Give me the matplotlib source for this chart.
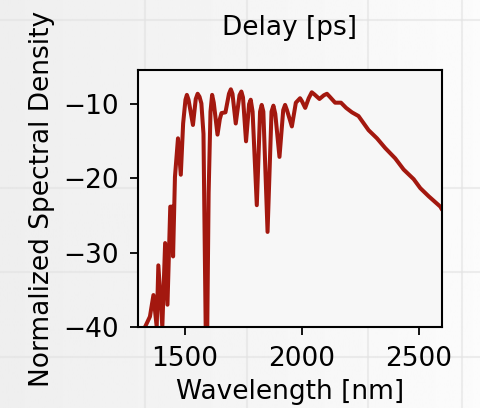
import numpy as np
import matplotlib
matplotlib.use("Agg")
from matplotlib import pyplot as plt

# spectrum (wavelength in nm, level in dB)
wavelength = [1300, 1330, 1351, 1366, 1380, 1387, 1404, 1416, 1426, 1438, 1446,
              1450, 1458, 1471, 1483, 1493, 1503, 1509, 1516, 1535, 1547, 1555,
              1563, 1571, 1580, 1593, 1602, 1610, 1617, 1624, 1640, 1650, 1657,
              1674, 1689, 1697, 1704, 1718, 1734, 1742, 1749, 1762, 1775, 1782,
              1790, 1808, 1822, 1829, 1836, 1854, 1871, 1879, 1887, 1905, 1921,
              1929, 1937, 1958, 1975, 1993, 2001, 2015, 2030, 2043, 2055, 2076,
              2095, 2108, 2120, 2143, 2168, 2190, 2215, 2243, 2286, 2322, 2357,
              2400, 2436, 2479, 2507, 2543, 2593, 2600]
density = [-45, -40, -38.6, -35.7, -40, -31.7, -40, -28.7, -37, -23.8, -23.8,
           -30.5, -19.8, -14.6, -19.5, -12.6, -9.4, -8.75, -9.4, -12.8, -9.3, -8.6,
           -9.0, -9.9, -14, -50, -22, -11, -8.75, -9.8, -14.1, -12.0, -11.2,
           -11.1, -8.6, -8.0, -8.6, -12.6, -8.8, -8.3, -9.1, -15.0, -10.0, -9.4,
           -11.0, -23.6, -11.0, -10.1, -11.0, -27.2, -11.0, -10.2, -11.3, -17.1, -10.8,
           -10.1, -10.8, -13.0, -9.8, -9.2, -9.6, -10.5, -9.2, -8.4, -8.7, -9.3,
           -8.8, -8.6, -9.0, -9.8, -9.8, -10.5, -11.1, -11.6, -13.5, -14.6, -15.9,
           -17.3, -18.8, -20.1, -21.3, -22.4, -23.8, -24.2]

LINE_COLOR = '#a3180f'

plt.rcParams['font.family'] = 'DejaVu Sans'
plt.rcParams['font.size'] = 19

fig = plt.figure(figsize=(4.8, 4.08), dpi=100)

# soft grey background with a light left-to-right gradient and faint lines
bg = fig.add_axes([0, 0, 1, 1], zorder=-10)
grad = np.linspace(0.935, 0.985, 256).reshape(1, -1)
bg.imshow(grad, cmap='gray', vmin=0, vmax=1, aspect='auto', extent=[0, 1, 0, 1])
for xv in [145 / 480, 247 / 480, 368 / 480, 462 / 480]:
    bg.axvline(xv, color='#e2e2e2', lw=1.5, alpha=0.6)
for yv in [1 - 20 / 408, 1 - 188 / 408, 1 - 272 / 408, 1 - 357 / 408]:
    bg.axhline(yv, color='#e2e2e2', lw=1.5, alpha=0.6)
bg.set_xlim(0, 1)
bg.set_ylim(0, 1)
bg.axis('off')

ax = fig.add_axes([138 / 480, 81 / 408, 304 / 480, 257 / 408])
ax.set_facecolor('#f7f7f7')
ax.plot(wavelength, density, color=LINE_COLOR, lw=2.9,
        solid_joinstyle='round', solid_capstyle='round')

ax.set_xlim(1300, 2600)
ax.set_ylim(-40, -5.4)
ax.set_xticks([1500, 2000, 2500])
ax.set_yticks([-10, -20, -30, -40])
ax.tick_params(length=6, width=1.3, pad=7.5)
for sp in ax.spines.values():
    sp.set_linewidth(1.5)

ax.set_xlabel('Wavelength [nm]', labelpad=5)
ax.set_ylabel('Normalized Spectral Density', labelpad=6)
ax.set_title('Delay [ps]', pad=25, fontsize=19)

plt.savefig('out.png', dpi=100)
